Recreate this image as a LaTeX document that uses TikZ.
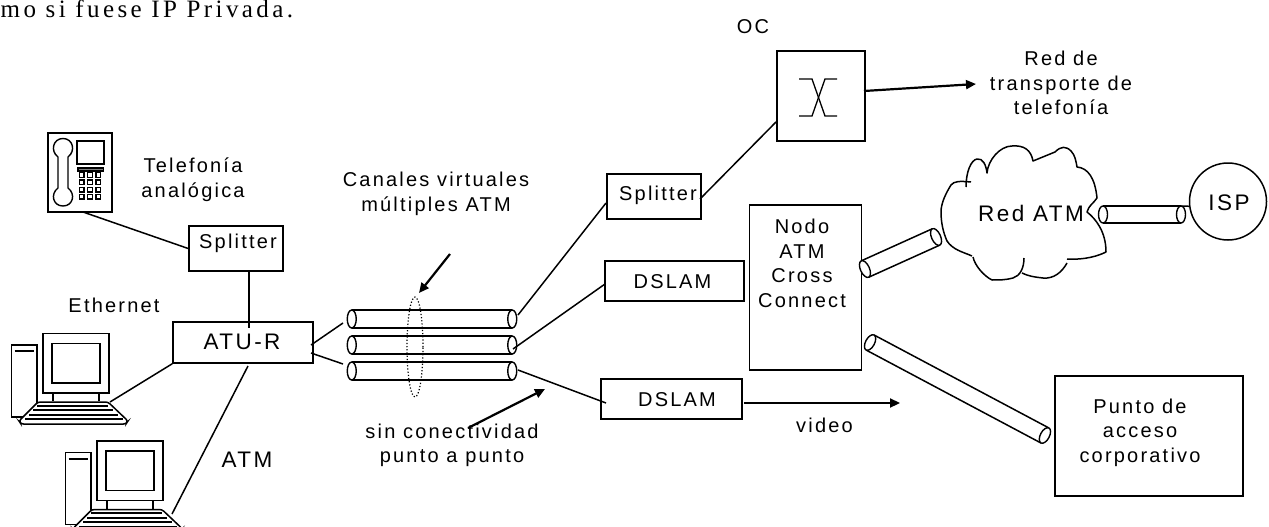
\documentclass[tikz,border=0pt]{standalone}
\usepackage{fontspec}
\setmainfont[LetterSpace=11]{Liberation Sans}
\newfontfamily\headserif[LetterSpace=13.6]{Liberation Serif}
\usetikzlibrary{arrows.meta,shapes.geometric,calc}
\tikzset{
  wire/.style={line width=1.5pt},
  boxn/.style={draw,line width=1.6pt,inner sep=0pt,fill=white},
  txt/.style={inner sep=0pt,align=center,font=\fontsize{20}{24.5}\selectfont},
  bigtxt/.style={inner sep=0pt,align=center,font=\fontsize{22.5}{26}\selectfont},
  heavy/.style={line width=2.2pt,-{Triangle[length=10pt,width=9pt]}},
  pc/.pic={
    \draw[line width=1.5pt,fill=white] (11.5,345) rectangle (37,417);
    \draw[line width=2pt] (14.5,351) -- (34,351);
    \draw[line width=1.5pt,fill=white] (43,333.5) rectangle (109,393);
    \draw[line width=1.5pt] (52,343.5) rectangle (100,383);
    \draw[line width=1.5pt] (53,393) -- (53,401) (99,393) -- (99,401);
    \draw[line width=1.5pt,fill=white,rounded corners=2.5pt] (38,402) -- (108,402) -- (128,421) -- (126,424) -- (21,424) -- (19,421) -- cycle;
    \draw[line width=2pt] (37,405.5) -- (108,405.5) (33,410) -- (113,410) (29,414.5) -- (118,414.5) (25,419) -- (123,419);
  }
}
\newcommand{\pipe}[6]{%
  \begin{scope}[shift={(#2,#3)},rotate=#5]
    \draw[wire] ({-#4/2},{-#6}) -- ({#4/2},{-#6}) ({-#4/2},{#6}) -- ({#4/2},{#6});
    \draw[line width=1.4pt,fill=white] ({-#4/2},0) ellipse [x radius=4.5,y radius=#6];
    \draw[line width=1.4pt,fill=white] ({#4/2},0) ellipse [x radius=4.5,y radius=#6];
    \coordinate (#1-l) at ({-#4/2},0);
    \coordinate (#1-r) at ({#4/2},0);
    \coordinate (#1-ru) at ({#4/2},{-#6});
  \end{scope}}
\begin{document}
\begin{tikzpicture}[x=1pt,y=-1pt]
\useasboundingbox (0,0) rectangle (1269,527);
\clip (0,0) rectangle (1269,527);

% heading fragment
\node[inner sep=0pt,anchor=base west,font=\headserif\fontsize{25}{29}\selectfont] (head) at (0.5,17.5) {mo si fuese IP Privada.};

% phone
\node[boxn,minimum width=64pt,minimum height=79pt] (phone) at (80,172.5) {};
\draw[line width=1.4pt] (58,157) .. controls (50,151) and (53,138.5) .. (63,138.5) .. controls (73,138.5) and (76,151) .. (68,157) -- (68,188) .. controls (76,194) and (73,206) .. (63,206) .. controls (53,206) and (50,194) .. (58,188) -- cycle;
\draw[line width=1.5pt] (77,141) rectangle (104,164);
\draw[line width=1.2pt,fill=gray] (78,168) rectangle (103.5,171);
\foreach \kx in {81.7,90,98.3}
  \foreach \ky in {175,182.3,189.6,196.6}
    \draw[line width=1.3pt] (\kx-2.3,\ky-2.3) rectangle (\kx+2.3,\ky+2.3);
\coordinate (phoneport) at (83,212);

% computers
\pic at (0,0) {pc};
\pic at (54,107.5) {pc};
\coordinate (pcaport) at (110,402);
\coordinate (pcbport) at (172,514);

% boxes
\node[boxn,minimum width=94pt,minimum height=45pt] (splita) at (236,248.5) {};
\node[boxn,minimum width=140pt,minimum height=41pt] (atu) at (243,342.5) {};
\node[boxn,minimum width=94pt,minimum height=45pt] (splitb) at (654,196.5) {};
\node[boxn,minimum width=88pt,minimum height=90pt] (oc) at (821,96) {};
\node[boxn,minimum width=139pt,minimum height=40pt] (dslama) at (674.5,281) {};
\node[boxn,minimum width=141pt,minimum height=40pt] (dslamb) at (671.5,399) {};
\node[boxn,minimum width=112pt,minimum height=165pt] (nodo) at (805.5,287.5) {};
\node[boxn,minimum width=188pt,minimum height=120pt] (punto) at (1149,436) {};
\node[draw,circle,line width=1.5pt,minimum size=77pt,inner sep=0pt] (isp) at (1228,201.5) {};

% OC symbol
\draw[line width=1.3pt] (799,79) -- (812,79) -- (825,116) -- (837,116);
\draw[line width=1.3pt] (837,79) -- (825,79) -- (812,116) -- (799,116);

% cloud
\draw[line width=1.5pt,line join=round]
  (971,182) .. controls (960,181) and (954,181) .. (951,185) .. controls (946,193) and (941,203) .. (941,212)
  .. controls (941,222) and (943,232) .. (947,241) .. controls (953,250) and (963,252) .. (972,256);
\draw[line width=1.5pt,line join=round]
  (966,187) .. controls (966,172) and (971,160) .. (977,159) .. controls (983,158) and (986,165) .. (987,173)
  .. controls (988,160) and (1000,146) .. (1012,146) .. controls (1024,145) and (1031,150) .. (1033,161)
  -- (1055,152) .. controls (1061,146) and (1066,146) .. (1071,151) .. controls (1075,155) and (1076,161) .. (1077,167)
  .. controls (1088,168) and (1095,178) .. (1097,198) .. controls (1093,204) and (1089,205) .. (1087,212)
  .. controls (1096,219) and (1106,232) .. (1106,252) .. controls (1098,256) and (1085,260) .. (1067,259);
\draw[line width=1.5pt,line join=round]
  (1067,263) .. controls (1062,272) and (1054,279) .. (1043,278) .. controls (1034,277) and (1028,276) .. (1022,273);
\draw[line width=1.5pt,line join=round]
  (1024,258) .. controls (1024,268) and (1020,276) .. (1013,278) .. controls (1006,280) and (999,280) .. (992,280)
  .. controls (984,276) and (975,266) .. (973,257);

% pipes
\pipe{pa}{432}{319}{160.5}{0}{9}
\pipe{pb}{432}{345}{160.5}{0}{9}
\pipe{pc}{432}{371}{160.5}{0}{9}
\pipe{pd}{900.5}{253}{78}{24.3}{9}
\pipe{pe}{1142}{214.5}{78}{0}{8.5}
\pipe{pf}{957.5}{389}{198}{-28}{8.5}

% bundle marker
\node[draw,ellipse,dotted,line width=1.2pt,minimum width=16pt,minimum height=100pt,inner sep=0pt] (bundle) at (415,347) {};

% connector end points
\coordinate (pa-in) at (343,323);
\coordinate (pc-in) at (343,364);
\coordinate (atu-a) at (311,345);
\coordinate (atu-b) at (311,353);
\coordinate (atu-c) at (248,366);
\coordinate (pa-out) at (518,315);
\coordinate (pb-out) at (513,349);
\coordinate (pc-out) at (518,370);
\coordinate (splitb-in) at (606,203);
\coordinate (dslama-in) at (605,284);
\coordinate (dslamb-in) at (606,403);
\coordinate (splitb-out) at (700,199);
\coordinate (oc-in) at (776,122);
\coordinate (oc-out) at (864,91);
\coordinate (tel-end) at (976,84);
\coordinate (video-start) at (744,403);
\coordinate (video-end) at (900,403);
\coordinate (canales-start) at (450,254);
\coordinate (canales-end) at (419,293);
\coordinate (sin-start) at (468,428);
\coordinate (sin-end) at (545,389);

% connectors
\draw[wire] (phoneport) -- (splita.west);
\draw[wire] (splita.south) ++(13,-1) coordinate (sa) -- (sa |- 0,328);
\draw[wire] (atu.south west) -- (pcaport);
\draw[wire] (atu-c) -- (pcbport);
\draw[wire] (atu-a) -- (pa-in);
\draw[wire] (atu-b) -- (pc-in);
\draw[wire] (pa-out) -- (splitb-in);
\draw[wire] (pb-out) -- (dslama-in);
\draw[wire] (pc-out) -- (dslamb-in);
\draw[wire] (splitb-out) -- (oc-in);
\draw[wire] (pe-ru) -- (isp.187);
\draw[heavy] (oc-out) -- (tel-end);
\draw[heavy] (video-start) -- (video-end);
\draw[heavy] (canales-start) -- (canales-end);
\draw[heavy] (sin-start) -- (sin-end);

% labels
\node[txt] (t1) at (193,179.5) {Telefonía\\analógica};
\node[txt] (t2) at (238,243) {Splitter};
\node[txt] (t3) at (114,305) {Ethernet};
\node[bigtxt] (t4) at (242,342) {ATU-R};
\node[bigtxt] (t5) at (247,460) {ATM};
\node[txt] (t6) at (436,194) {Canales virtuales\\múltiples ATM};
\node[txt] (t7) at (452,445.5) {sin conectividad\\punto a punto};
\node[txt] (t8) at (658,195) {Splitter};
\node[txt] (t9) at (672.5,282) {DSLAM};
\node[txt] (t10) at (677,400) {DSLAM};
\node[txt] (t11) at (802,263.5) {Nodo\\ATM\\Cross\\Connect};
\node[txt] (t12) at (753,27) {OC};
\node[txt] (t13) at (1061,83) {Red de\\transporte de\\telefonía};
\node[bigtxt] (t14) at (1031,213) {Red ATM};
\node[bigtxt] (t15) at (1229,203) {ISP};
\node[txt] (t16) at (824.5,425) {video};
\node[txt] (t17) at (1140,432.5) {Punto de\\acceso\\corporativo};
\end{tikzpicture}
\end{document}
